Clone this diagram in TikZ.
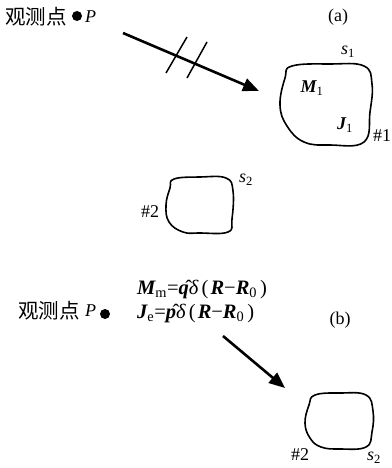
\documentclass[tikz,border=0pt]{standalone}
\usepackage{fontspec}
\setmainfont{Liberation Serif}
\newfontfamily\cjk{Noto Sans CJK SC}
\usetikzlibrary{arrows.meta}
\newcommand{\bi}[1]{{\bfseries\itshape #1}}
\newcommand{\sbs}[1]{\textsubscript{#1}}
\newcommand{\lp}{\hspace{3pt}(\hspace{2pt}}
\newcommand{\rp}{\hspace{3pt})}
\tikzset{
  blob/.style={line width=1.6pt, smooth cycle, tension=0.7},
  bigarrow/.style={line width=2.6pt, -{Triangle[length=16pt,width=13pt]}},
  tick/.style={line width=1.5pt},
  lbl/.style={inner sep=0pt, font=\fontsize{18}{20}\selectfont},
  eqlbl/.style={inner sep=0pt, font=\fontsize{20.5}{22}\selectfont},
  cjklbl/.style={inner sep=0pt, font=\fontsize{20.5}{22}\selectfont\cjk},
  dot/.style={circle, fill=black, inner sep=0pt, minimum size=10pt}
}
\begin{document}
\begin{tikzpicture}[x=1pt,y=-1pt]
\useasboundingbox (0,0) rectangle (391,468);
% ---------- (a) ----------
\node[cjklbl, anchor=west] (obsA) at (5,17) {观测点};
\node[dot] (dotA) at (77,16) {};
\node[lbl, anchor=west] (PA) at (85,17) {\textit{P}};
\node[lbl] (a) at (338,17) {(a)};
\coordinate (arA1) at (123,33);
\coordinate (arA2) at (259,91);
\draw[bigarrow] (arA1) -- (arA2);
\coordinate (t1a) at (166,73); \coordinate (t1b) at (187,37);
\coordinate (t2a) at (187,78); \coordinate (t2b) at (207,42);
\draw[tick] (t1a) -- (t1b);
\draw[tick] (t2a) -- (t2b);
\draw[blob] plot coordinates {(292,66) (330,64) (364,66) (372,84) (370,112) (364,142) (330,145) (304,142) (287,126) (280,105) (285,78)};
\node[lbl] (s1) at (348,52) {\textit{s}\sbs{1}};
\node[lbl] (M1) at (312,88) {\bi{M}\sbs{1}};
\node[lbl] (J1) at (345,125) {\bi{J}\sbs{1}};
\node[lbl] (h1) at (382,136) {\#1};
\draw[blob] plot coordinates {(174,179) (200,177) (226,178) (233,191) (232,219) (228,232) (200,233) (183,232) (169,222) (166,205) (170,188)};
\node[lbl] (s2a) at (246,180) {\textit{s}\sbs{2}};
\node[lbl] (h2a) at (150,212) {\#2};
% ---------- (b) ----------
\node[lbl] (b) at (340,320) {(b)};
\node[cjklbl, anchor=west] (obsB) at (18,311) {观测点};
\node[lbl, anchor=west] (PB) at (85,311) {\textit{P}};
\node[dot] (dotB) at (105,314) {};
\node[eqlbl, anchor=base west] (eq1) at (137,294) {\bi{M}\sbs{m}=\^{\bi{q}}\textit{δ}\lp\bi{R}−\bi{R}\sbs{0}\rp};
\node[eqlbl, anchor=base west] (eq2) at (137,318) {\bi{J}\sbs{e}=\^{\bi{p}}\textit{δ}\lp\bi{R}−\bi{R}\sbs{0}\rp};
\coordinate (arB1) at (223,336);
\coordinate (arB2) at (285,388);
\draw[bigarrow] (arB1) -- (arB2);
\draw[blob] plot coordinates {(315,395) (340,393) (366,395) (373,411) (372,432) (366,447) (340,449) (321,447) (310,438) (305,423) (309,405)};
\node[lbl] (h2b) at (300,455) {\#2};
\node[lbl] (s2b) at (374,458) {\textit{s}\sbs{2}};
\end{tikzpicture}
\end{document}
